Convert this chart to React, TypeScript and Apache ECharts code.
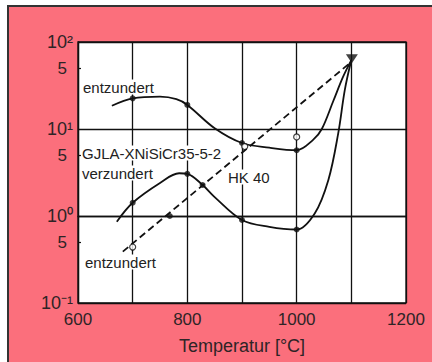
import React, { useEffect, useRef } from "react";
import * as echarts from "echarts";

// Upper solid curve (GJLA-XNiSiCr35-5-2, entzundert)
const upperT = [662, 700, 750, 780, 800, 850, 900, 950, 1000, 1030, 1046, 1067, 1085, 1100];
const upperV = [18.5, 22.5, 23.5, 22, 18.9, 10.2, 6.9, 6.1, 5.7, 7.5, 10, 21, 40, 62];
// Lower solid curve (verzundert)
const lowerT = [671, 700, 750, 785, 800, 828, 850, 900, 950, 1000, 1033, 1058, 1076, 1088, 1100];
const lowerV = [0.86, 1.42, 2.4, 3.1, 3.05, 2.27, 1.65, 0.9, 0.75, 0.7, 1.07, 2.6, 8.9, 28, 62];
// Dashed line (HK 40)
const hkT = [682, 1097];
const hkV = [0.39, 57];
// Markers
const filledT = [700, 800, 900, 1000, 700, 800, 828, 900, 1000, 768];
const filledV = [22.5, 18.9, 6.9, 5.7, 1.42, 3.05, 2.27, 0.9, 0.7, 1.0];
const openT = [905, 1000, 700];
const openV = [6.3, 8.1, 0.44];
const topT = [1101];
const topV = [64];
// Axis ticks
const decadeLabels: Record<string, string> = { "0.1": "10⁻¹", "1": "10⁰", "10": "10¹", "100": "10²" };
const fiveValues = [0.5, 5, 50];
const xLabelValues = [600, 800, 1000, 1200];

const pairs = (xs: number[], ys: number[]) => xs.map((x, i) => [x, ys[i]]);

const TXT = "#2e2426";
const FONT = "Liberation Sans, Arial, sans-serif";

export default function App() {
  const ref = useRef<HTMLDivElement>(null);
  useEffect(() => {
    document.body.style.margin = "0";
    const chart = echarts.init(ref.current!, null, { renderer: "svg" });
    const labelStyle = (text: string, x: number, y: number) => ({
      type: "text",
      x,
      y,
      z: 100,
      style: {
        text,
        fill: "#222",
        font: `15px ${FONT}`,
        verticalAlign: "middle",
        backgroundColor: "#fff",
        padding: [0, 1, 0, 0],
      },
    });
    chart.setOption({
      animation: false,
      grid: {
        left: 78,
        top: 42,
        width: 328,
        height: 261,
        show: true,
        backgroundColor: "#fff",
        borderColor: "#111",
        borderWidth: 1.3,
      },
      xAxis: {
        type: "value",
        min: 600,
        max: 1200,
        interval: 100,
        name: "Temperatur [°C]",
        nameLocation: "middle",
        nameGap: 34,
        nameTextStyle: { fontSize: 18, color: TXT, fontFamily: FONT },
        axisLine: { lineStyle: { color: "#111", width: 1.3 } },
        axisTick: { show: false },
        splitLine: { show: true, lineStyle: { color: "#111", width: 1.3 } },
        axisLabel: {
          fontSize: 17,
          color: TXT,
          fontFamily: FONT,
          margin: 8,
          formatter: (v: number) => (xLabelValues.includes(v) ? String(v) : ""),
        },
      },
      yAxis: [
        {
          type: "log",
          logBase: 10,
          min: 0.1,
          max: 100,
          position: "left",
          axisLine: { lineStyle: { color: "#111", width: 1.3 } },
          axisTick: { show: false },
          splitLine: { show: true, lineStyle: { color: "#111", width: 1.3 } },
          axisLabel: {
            fontSize: 18,
            color: TXT,
            fontFamily: FONT,
            margin: 5,
            formatter: (v: number) => decadeLabels[String(+v.toPrecision(3))] ?? "",
          },
        },
        {
          type: "value",
          min: -1,
          max: 2,
          position: "left",
          axisLine: { show: false },
          splitLine: { show: false },
          axisTick: {
            show: true,
            inside: true,
            length: 3,
            customValues: fiveValues.map((v) => Math.log10(v)),
            lineStyle: { color: "#111", width: 1.2 },
          },
          axisLabel: {
            fontSize: 17,
            color: TXT,
            fontFamily: FONT,
            margin: 11,
            customValues: fiveValues.map((v) => Math.log10(v)),
            formatter: () => "5",
          },
        },
      ],
      series: [
        {
          type: "line",
          data: pairs(upperT, upperV),
          smooth: 0.35,
          showSymbol: false,
          lineStyle: { color: "#111", width: 1.8 },
          z: 5,
        },
        {
          type: "line",
          data: pairs(lowerT, lowerV),
          smooth: 0.35,
          showSymbol: false,
          lineStyle: { color: "#111", width: 1.8 },
          z: 5,
        },
        {
          type: "line",
          data: pairs(hkT, hkV),
          showSymbol: false,
          lineStyle: { color: "#111", width: 1.8, type: [7, 4] },
          z: 5,
        },
        {
          type: "scatter",
          data: pairs(filledT, filledV),
          symbol: "circle",
          symbolSize: 6,
          itemStyle: { color: "#111" },
          z: 6,
        },
        {
          type: "scatter",
          data: pairs(openT, openV),
          symbol: "circle",
          symbolSize: 6,
          itemStyle: { color: "#fff", borderColor: "#111", borderWidth: 1.2 },
          z: 6,
        },
        {
          type: "scatter",
          data: pairs(topT, topV),
          symbol: "triangle",
          symbolRotate: 180,
          symbolSize: [12, 9],
          itemStyle: { color: "#111" },
          z: 6,
        },
      ],
      graphic: [
        labelStyle("entzundert", 83, 87),
        labelStyle("GJLA-XNiSiCr35-5-2", 82, 153),
        labelStyle("verzundert", 82, 173),
        labelStyle("HK 40", 228, 177),
        labelStyle("entzundert", 85, 262),
      ],
    });
    return () => chart.dispose();
  }, []);
  return (
    <div style={{ position: "relative", width: 432, height: 362, background: "#fff", overflow: "hidden" }}>
      <div
        style={{
          position: "absolute",
          left: 7,
          top: 5,
          right: 0,
          bottom: 0,
          background: "#fb6f7c",
          borderLeft: "2px solid #333",
          borderTop: "2px solid #333",
        }}
      />
      <div ref={ref} style={{ position: "absolute", left: 0, top: 0, width: 432, height: 362 }} />
    </div>
  );
}
